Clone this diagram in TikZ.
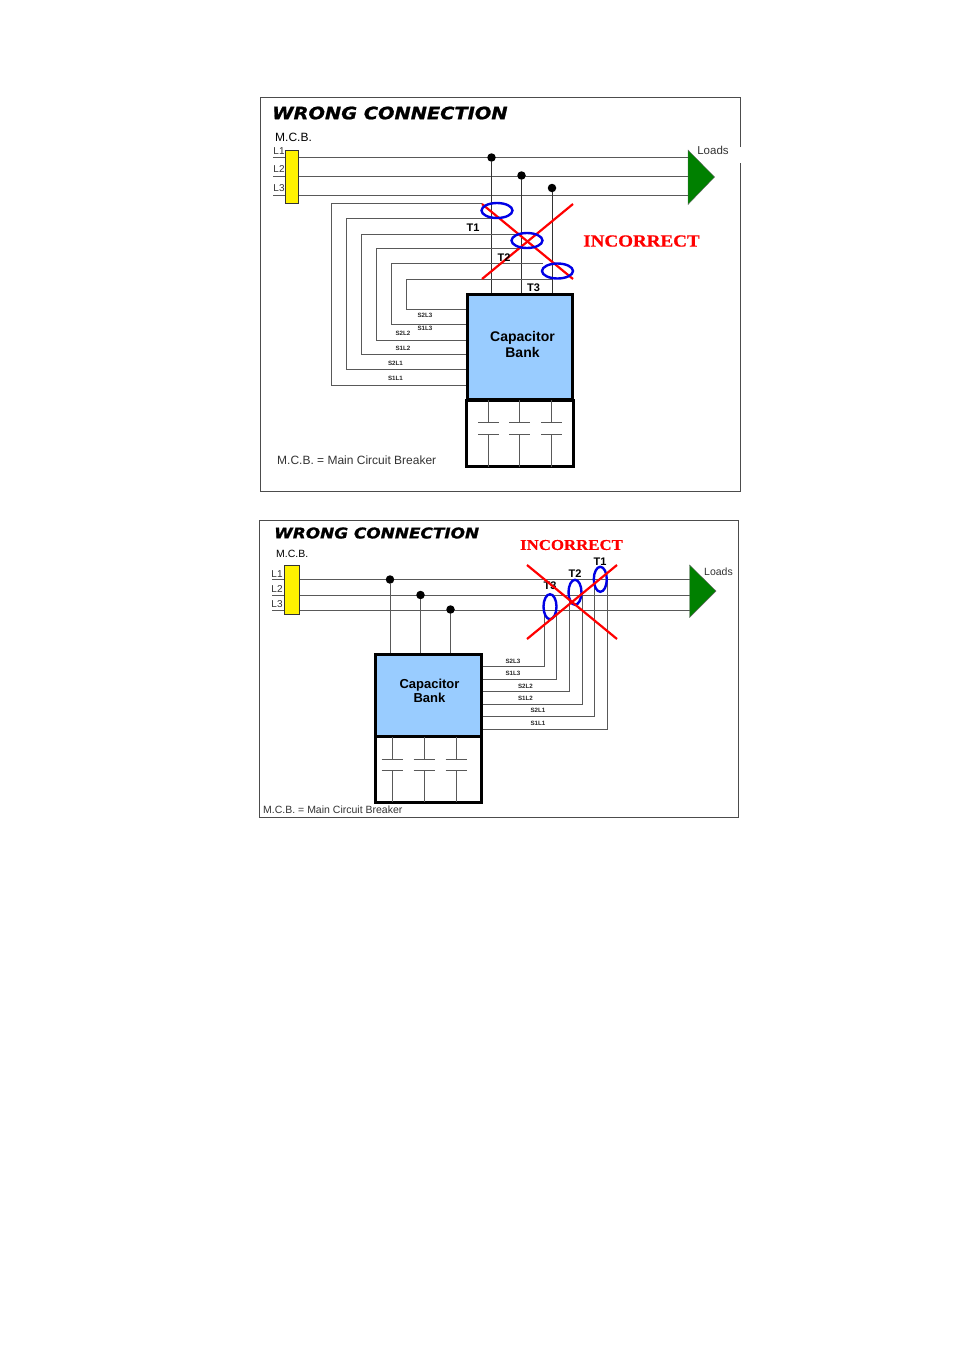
\documentclass[tikz,border=0pt]{standalone}
\usepackage{fontspec}
\setmainfont{Liberation Sans}
\newfontfamily\titlefont[BoldItalicFeatures={FakeBold=1.2,FakeStretch=1.14}]{DejaVu Sans}
\newfontfamily\redfont[BoldFeatures={FakeBold=0.6,FakeStretch=1.12}]{Liberation Serif}
\definecolor{bankblue}{RGB}{153,204,255}
\definecolor{loadgreen}{RGB}{0,128,0}
\tikzset{
  wire/.style={black!65,line width=1pt},
  panel/.style={black!70,line width=0.7pt},
  breaker/.style={draw=black!80,fill=yellow,line width=0.8pt,inner sep=0pt,minimum width=#1},
  bank/.style={draw=black,line width=3pt,fill=#1,inner sep=0pt},
  tap/.style={circle,fill=black,inner sep=0pt,minimum size=8.5pt},
  load/.style={fill=loadgreen,draw=black!60,line width=0.4pt},
  ring/.style={draw=blue!90!black,line width=2.4pt},
  cross/.style={red,line width=2.2pt},
  heading/.style={font=\titlefont\bfseries\itshape\fontsize{#1}{#1}\selectfont,anchor=west,inner sep=0pt},
  wrong/.style={font=\redfont\bfseries\fontsize{#1}{#1}\selectfont,red,inner sep=0pt},
  tag/.style={font=\bfseries\fontsize{6.2}{7}\selectfont,black!85,inner sep=0pt},
  tname/.style={font=\bfseries\fontsize{11}{11}\selectfont,inner sep=0pt},
  note/.style={font=\fontsize{#1}{#1}\selectfont,black!80,inner sep=0pt},
  banktext/.style={font=\bfseries\fontsize{14}{16.5}\selectfont,align=center,inner sep=0pt}
}
\begin{document}
\begin{tikzpicture}[x=1pt,y=-1pt]
\useasboundingbox (0,0) rectangle (954,1350);
% upper panel
\draw[panel] (740.5,147) -- (740.5,97.5) -- (260.5,97.5) -- (260.5,491) -- (740.5,491) -- (740.5,163);
\node[heading=17] (titleA) at (272,113) {WRONG CONNECTION};
\node[note=12,black,anchor=west] (mcbA) at (275,137) {M.C.B.};
\foreach \n/\y/\ly in {1/157.5/151.5, 2/176.5/169, 3/195.5/188} {
  \coordinate (lineA\n) at (273,\y); \coordinate (endA\n) at (688,\y);
  \draw[wire] (lineA\n) -- (endA\n);
  \node[note=10] (labA\n) at (279,\ly) {L\n};
};
\node[breaker=13pt,minimum height=53pt] (cbA) at (292,177) {};
\draw[load] (688,150) coordinate (loadA) -- (714.5,177) -- (688,204.5) -- cycle;
\node[note=11.5] (loadsA) at (713,150) {Loads};
\node[bank=bankblue] (capA) at (519.5,346.5) [minimum width=105pt,minimum height=105pt] {};
\node[bank=white] (cellsA) at (520,433.5) [minimum width=106.5pt,minimum height=66.5pt] {};
\node[banktext] (capAtext) at (522.5,344.5) {Capacitor\\Bank};
\foreach \n/\x/\y in {1/491.5/157.5, 2/521.5/175.5, 3/552/188} {
  \node[tap] (dotA\n) at (\x,\y) {};
  \draw[wire,black!80] (dotA\n) -- (dotA\n |- capA.north);
};
% CT loops
\foreach \x/\t/\b/\e in {331.5/203.5/385.5/482, 346.5/218.5/369.5/492, 361.5/234.5/354.5/522, 376.5/248.5/340.5/528, 391.5/263.5/324.5/543, 406.5/279.5/309.5/552} {
  \draw[wire] (capA.west |- 0,\b) -| (\x,\t) -- (\e,\t);
};
\foreach \x/\y/\s in {425/315/S2L3, 425/328.5/S1L3, 403/333/S2L2, 403/348.5/S1L2, 395.5/363.5/S2L1, 395.5/378.5/S1L1} {
  \node[tag] (tagA\s) at (\x,\y) {\s};
};
\foreach \x in {488.5,519.5,551.5} {
  \draw[wire] (\x,400) -- (\x,422.5) (\x-10.5,422.5) -- (\x+10.5,422.5);
  \draw[wire] (\x-10.5,434.5) -- (\x+10.5,434.5) (\x,434.5) -- (\x,467);
};
\draw[cross] (482,204) -- (573,279); \draw[cross] (482,279) -- (573,204);
\foreach \n/\x/\y in {1/497/210.5, 2/527/240.5, 3/557.5/271} {
  \draw[ring] (\x,\y) ellipse [x radius=15.5,y radius=7.5];
};
\node[tname] (t1A) at (473,228) {T1}; \node[tname] (t2A) at (504,257.5) {T2}; \node[tname] (t3A) at (533.5,288) {T3};
\node[wrong=17] (wrongA) at (641.5,241) {INCORRECT};
\node[note=12,anchor=west] (keyA) at (277,460) {M.C.B. = Main Circuit Breaker};
% lower panel
\draw[panel] (259.5,520.5) rectangle (738.5,817.5);
\node[heading=14.8] (titleB) at (274,533) {WRONG CONNECTION};
\node[note=10.5,black,anchor=west] (mcbB) at (276,554) {M.C.B.};
\foreach \n/\y/\ly in {1/579.5/574, 2/595.5/589, 3/610/604} {
  \coordinate (lineB\n) at (272,\y); \coordinate (endB\n) at (690,\y);
  \draw[wire] (lineB\n) -- (endB\n);
  \node[note=10] (labB\n) at (277,\ly) {L\n};
};
\node[breaker=14.5pt,minimum height=49pt] (cbB) at (291.75,589.5) {};
\draw[load] (689.5,565) coordinate (loadB) -- (716,591) -- (689.5,617.5) -- cycle;
\node[note=10.5] (loadsB) at (718.5,572) {Loads};
\node[bank=bankblue] (capB) at (428,695.25) [minimum width=106pt,minimum height=82pt] {};
\node[bank=white] (cellsB) at (428,769.5) [minimum width=106pt,minimum height=65.5pt] {};
\node[banktext,font=\bfseries\fontsize{13}{14}\selectfont] (capBtext) at (429.5,691) {Capacitor\\Bank};
\foreach \n/\x/\y in {1/390/579.5, 2/420.5/595, 3/450.5/609.5} {
  \node[tap] (dotB\n) at (\x,\y) {};
  \draw[wire] (dotB\n) -- (dotB\n |- capB.north);
};
% CT leads
\foreach \x/\t/\b in {544/607/666.5, 556.5/607/679.5, 569.5/592/691.5, 582/592/704, 594.5/579/716.5, 607/579/729} {
  \draw[wire] (capB.east |- 0,\b) -| (\x,\t);
};
\foreach \x/\y/\s in {513/661/S2L3, 513/673.5/S1L3, 525.5/686/S2L2, 525.5/698/S1L2, 538/710/S2L1, 538/723/S1L1} {
  \node[tag] (tagB\s) at (\x,\y) {\s};
};
\foreach \x in {392,424,456} {
  \draw[wire] (\x,737) -- (\x,759.5) (\x-10.5,759.5) -- (\x+10.5,759.5);
  \draw[wire] (\x-10.5,770) -- (\x+10.5,770) (\x,770) -- (\x,802);
};
\node[tname] (t1B) at (600,562) {T1}; \node[tname] (t2B) at (575,574) {T2}; \node[tname] (t3B) at (550,586) {T3};
\foreach \n/\x/\y in {1/600.3/579.3, 2/575/592.3, 3/550/606.7} {
  \draw[ring] (\x,\y) ellipse [x radius=6.5,y radius=12.5];
};
\draw[cross] (527,565) -- (617,639); \draw[cross] (527,639) -- (617,565);
\node[wrong=15] (wrongB) at (571.5,545) {INCORRECT};
\node[note=10.5,anchor=west] (keyB) at (263,810) {M.C.B. = Main Circuit Breaker};
\end{tikzpicture}
\end{document}
